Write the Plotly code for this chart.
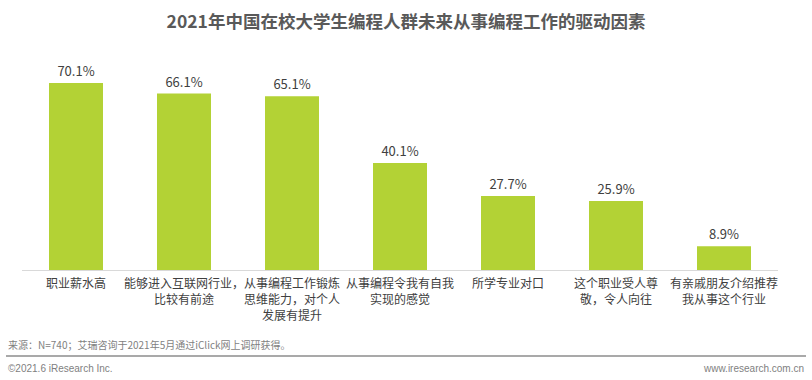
import plotly.graph_objects as go

categories = ["职业薪水高", "能够进入互联网行业，<br>比较有前途", "从事编程工作锻炼<br>思维能力，对个人<br>发展有提升",
              "从事编程令我有自我<br>实现的感觉", "所学专业对口", "这个职业受人尊<br>敬，令人向往", "有亲戚朋友介绍推荐<br>我从事这个行业"]
values = [70.1, 66.1, 65.1, 40.1, 27.7, 25.9, 8.9]
value_labels = [f"{v:.1f}%" for v in values]

FONT = "Microsoft YaHei, Noto Sans CJK SC, sans-serif"

fig = go.Figure(go.Bar(
    x=categories, y=values, text=value_labels, textposition="outside",
    textfont=dict(size=13, color="#404040", family=FONT),
    marker=dict(color="#b3d235", line=dict(width=0)), width=0.5, cliponaxis=False,
))

fig.update_layout(
    width=812, height=380,
    margin=dict(l=22, r=34, t=60, b=110),
    plot_bgcolor="white", paper_bgcolor="white",
    showlegend=False,
    title=dict(text="<b>2021年中国在校大学生编程人群未来从事编程工作的驱动因素</b>",
               x=0.5, xanchor="center", y=1 - 22/380, yanchor="middle",
               font=dict(size=17.5, color="#595959", family=FONT)),
    xaxis=dict(showline=True, linecolor="#d9d9d9", linewidth=1, ticks="", tickangle=0, automargin=False,
               tickfont=dict(size=12, color="#404040", family=FONT), ticklabelstandoff=3),
    yaxis=dict(range=[0, 78.7], visible=False, showgrid=False, automargin=False),
    font=dict(family=FONT),
)

fig.add_annotation(text="来源：N=740；艾瑞咨询于2021年5月通过iClick网上调研获得。", xref="paper", yref="paper",
                   x=-16/756, y=-74/210, xanchor="left", yanchor="middle", showarrow=False,
                   font=dict(size=10, color="#7f7f7f", family=FONT))
fig.add_shape(type="line", xref="paper", yref="paper", x0=-16/756, x1=784/756, y0=-86/210, y1=-86/210,
              line=dict(color="#8c8c8c", width=1.5))
fig.add_annotation(text="©2021.6 iResearch Inc.", xref="paper", yref="paper",
                   x=-16/756, y=-98/210, xanchor="left", yanchor="middle", showarrow=False,
                   font=dict(size=10, color="#7f7f7f", family="Arial, Liberation Sans, sans-serif"))
fig.add_annotation(text="www.iresearch.com.cn", xref="paper", yref="paper",
                   x=784/756, y=-98/210, xanchor="right", yanchor="middle", showarrow=False,
                   font=dict(size=10, color="#7f7f7f", family="Arial, Liberation Sans, sans-serif"))

fig.write_html("out.html", config={"displayModeBar": False},
               post_script="document.body.style.margin='0';")
